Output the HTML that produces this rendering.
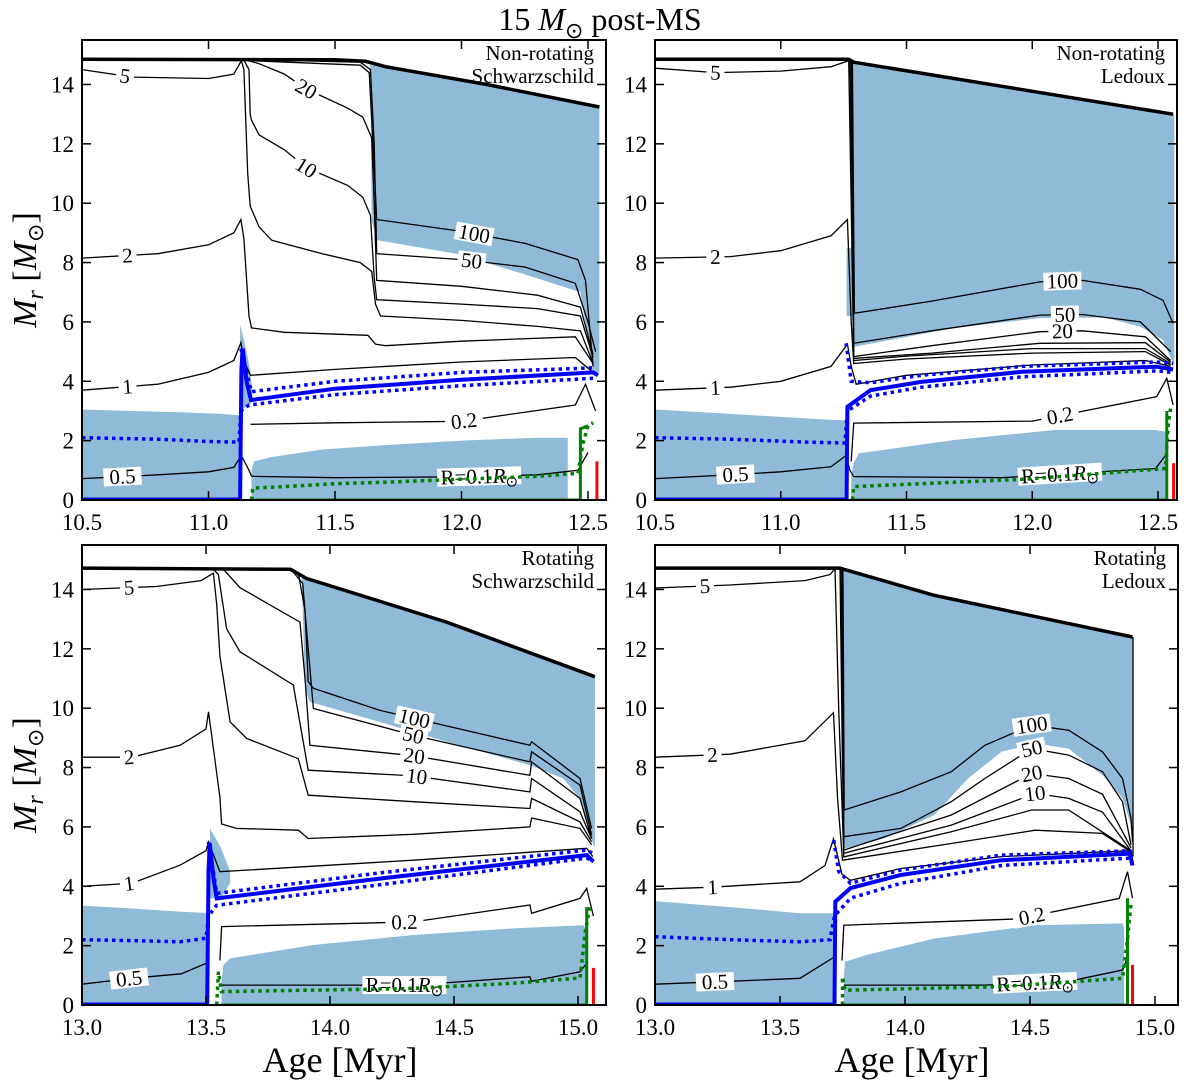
<!DOCTYPE html>
<html><head><meta charset="utf-8"><style>
html,body{margin:0;padding:0;background:#fff;}
svg{display:block;font-family:"Liberation Serif",serif;}
</style></head><body>
<svg id="fig" width="1200" height="1087" viewBox="0 0 1200 1087" xmlns="http://www.w3.org/2000/svg">
<text x="600" y="30" text-anchor="middle" font-size="32">15 <tspan font-style="italic">M</tspan><tspan font-size="22" dy="8">⊙</tspan><tspan dy="-8"> post-MS</tspan></text>
<text transform="translate(36,270) rotate(-90)" text-anchor="middle" font-size="34"><tspan font-style="italic">M</tspan><tspan font-style="italic" font-size="24" dy="7">r</tspan><tspan dy="-7"> [</tspan><tspan font-style="italic">M</tspan><tspan font-size="22" dy="7">⊙</tspan><tspan dy="-7">]</tspan></text>
<text transform="translate(36,775) rotate(-90)" text-anchor="middle" font-size="34"><tspan font-style="italic">M</tspan><tspan font-style="italic" font-size="24" dy="7">r</tspan><tspan dy="-7"> [</tspan><tspan font-style="italic">M</tspan><tspan font-size="22" dy="7">⊙</tspan><tspan dy="-7">]</tspan></text>
<text x="340" y="1072" text-anchor="middle" font-size="36">Age [Myr]</text>
<text x="912" y="1072" text-anchor="middle" font-size="36">Age [Myr]</text>
</svg>
<script>
// ---------------- Panel 1: Non-rotating Schwarzschild ----------------
const p1Total=[[10.5,14.85],[11.5,14.83],[11.62,14.78],[11.7,14.6],[12.1,14.0],[12.545,13.24]];
const p1EnvTop=[[11.64,14.72],[11.7,14.6],[12.1,14.0],[12.545,13.24]];
const p1EnvBot=[[11.64,14.5],[11.645,9.4],[11.667,8.75],[11.98,8.3],[12.25,7.6],[12.47,7.0],[12.52,4.3],[12.545,4.3]];
const p1CoreTop=[[10.5,3.05],[10.7,3.0],[10.9,2.95],[11.05,2.9],[11.125,2.85]];
const p1Sliver=[[11.125,5.9],[11.14,5.4],[11.165,4.4],[11.175,3.3],[11.125,3.0]];
const p1ShellTop=[[11.17,1.0],[11.18,1.3],[11.25,1.45],[11.45,1.7],[11.7,1.85],[12.0,2.0],[12.3,2.1],[12.42,2.1]];
const p1HLine=[[11.125,0],[11.13,4.4],[11.135,5.1],[11.15,4.0],[11.168,3.37],[11.5,3.75],[12.0,4.05],[12.52,4.3],[12.54,4.2]];
const p1DotUp=[[11.128,5.1],[11.15,4.3],[11.17,3.65],[11.5,4.0],[12.0,4.3],[12.52,4.45]];
const p1DotLo=[[10.5,2.1],[10.8,2.05],[11.0,1.97],[11.12,1.95],[11.128,3.0],[11.16,3.2],[11.5,3.55],[12.0,3.85],[12.52,4.1]];
const p1GreenDot=[[11.17,0.0],[11.175,0.4],[11.3,0.45],[11.5,0.55],[11.7,0.6],[12.0,0.7],[12.3,0.8],[12.46,0.9],[12.48,1.9],[12.5,2.5],[12.52,2.6]];
const p1GreenSolid=[[11.17,0],[12.47,0],[12.47,2.4],[12.5,2.5]];
const p1Red=[[12.535,0],[12.535,1.3]];
const p1ContourLabels=["5","2","1","10","20","50","100","0.2","0.5","R"];
const p1LabelAges=[10.67,10.68,10.68,11.386,11.386,12.04,12.05,12.01,10.66,12.07];
const p1ContourLines=[
 [[10.5,14.5],[10.7,14.25],[11.0,14.2],[11.1,14.35],[11.13,14.8],[11.14,14.5],[11.155,11],[11.165,9.9],[11.2,9.2],[11.25,8.75],[11.45,8.3],[11.6,8.0],[11.645,7.7],[11.66,6.6],[11.68,6.2],[12.0,6.05],[12.3,5.85],[12.47,5.7],[12.52,4.6]],
 [[10.5,8.15],[10.8,8.3],[11.0,8.6],[11.1,9.0],[11.128,9.45],[11.14,8.8],[11.16,6.2],[11.17,5.8],[11.3,5.65],[11.63,5.55],[11.66,5.25],[11.7,5.2],[12.0,5.35],[12.45,5.5],[12.52,4.6]],
 [[10.5,3.7],[10.8,3.9],[11.0,4.3],[11.1,4.7],[11.128,5.3],[11.14,4.7],[11.166,4.2],[11.5,4.4],[12.0,4.65],[12.45,4.8],[12.52,4.3]],
 [[11.14,14.82],[11.16,14.5],[11.165,13],[11.17,12.8],[11.2,12.3],[11.3,11.8],[11.386,11.2],[11.55,10.6],[11.61,10.2],[11.64,9.6],[11.655,7.5],[11.665,6.75],[12.0,6.6],[12.3,6.45],[12.47,6.2],[12.52,4.8]],
 [[11.15,14.82],[11.2,14.7],[11.3,14.35],[11.386,13.85],[11.55,13.2],[11.61,12.9],[11.645,12.2],[11.655,10],[11.665,7.4],[12.0,7.2],[12.3,6.9],[12.47,6.5],[12.52,4.9]],
 [[11.16,14.84],[11.6,14.75],[11.64,14.5],[11.655,12],[11.665,8.3],[12.0,8.1],[12.25,7.85],[12.45,7.3],[12.5,6.0],[12.53,5.0]],
 [[11.17,14.8],[11.6,14.65],[11.635,14.4],[11.65,12],[11.665,9.45],[12.0,9.05],[12.25,8.65],[12.46,8.1],[12.49,7.4],[12.52,4.5]],
 [[11.166,2.55],[11.5,2.6],[12.0,2.65],[12.45,3.2],[12.49,3.9],[12.53,3.0]],
 [[10.5,0.72],[10.8,0.85],[11.0,0.95],[11.1,1.1],[11.13,1.5],[11.16,1.0],[11.17,0.8]],
 [[11.17,0.8],[11.5,0.75],[12.0,0.78],[12.3,0.85],[12.46,1.0],[12.5,1.6]]
];
// ---------------- Panel 2: Non-rotating Ledoux ----------------
const p2Total=[[10.5,14.85],[11.27,14.85],[11.29,14.75],[12.56,13.0]];
const p2EnvTop=[[11.285,14.75],[12.565,13.0]];
const p2EnvBot=[[11.285,14.7],[11.29,5.16],[11.69,5.8],[12.03,6.13],[12.29,6.15],[12.43,5.84],[12.52,5.39],[12.565,4.5]];
const p2CoreTop=[[10.5,3.05],[10.8,2.9],[11.0,2.8],[11.2,2.7],[11.262,2.69]];
const p2Sliver=[[11.262,8.5],[11.285,8.5],[11.285,6.2],[11.262,6.2]];
const p2ShellTop=[[11.28,0.8],[11.29,1.24],[11.31,1.57],[11.5,1.8],[11.69,2.02],[12.09,2.36],[12.49,2.36],[12.53,2.3]];
const p2HLine=[[11.262,0],[11.265,3.14],[11.357,3.7],[11.558,3.98],[11.96,4.32],[12.495,4.49],[12.56,4.4]];
const p2DotUp=[[11.26,5.28],[11.28,4.0],[11.357,3.95],[11.558,4.2],[11.96,4.5],[12.495,4.65],[12.56,4.6]];
const p2DotLo=[[10.5,2.1],[10.8,2.05],[11.1,1.95],[11.255,1.92],[11.265,3.0],[11.357,3.5],[11.558,3.8],[11.96,4.15],[12.495,4.35],[12.56,4.3]];
const p2GreenDot=[[11.285,0],[11.29,0.45],[11.97,0.7],[12.53,1.06],[12.54,2.5],[12.55,3.1]];
const p2GreenSolid=[[11.29,0],[12.535,0],[12.535,3.0]];
const p2Red=[[12.562,0],[12.562,1.24]];
const p2ContourLabels=["5","2","1","10","20","50","100","0.2","0.5","R"];
const p2LabelAges=[10.74,10.74,10.74,null,12.12,12.13,12.12,12.11,10.82,12.11];
const p2ContourLines=[
 [[10.5,14.55],[10.74,14.4],[11.0,14.45],[11.2,14.6],[11.27,14.8],[11.28,10],[11.29,4.7],[11.5,4.85],[12.0,5.1],[12.45,5.1],[12.55,4.6]],
 [[10.5,8.15],[10.8,8.2],[11.0,8.4],[11.2,8.9],[11.265,9.45],[11.28,6],[11.29,4.6],[11.5,4.75],[12.0,4.95],[12.45,5.0],[12.55,4.55]],
 [[10.5,3.7],[10.8,3.8],[11.0,4.0],[11.2,4.5],[11.265,5.25],[11.28,4.5],[11.3,3.9],[11.5,4.2],[12.0,4.55],[12.45,4.7],[12.55,4.5]],
 [[11.275,14.85],[11.285,10],[11.29,4.77],[11.6,4.95],[12.03,5.28],[12.45,5.3],[12.55,4.65]],
 [[11.28,14.85],[11.29,4.83],[11.6,5.2],[12.03,5.67],[12.2,5.7],[12.45,5.5],[12.55,4.7]],
 [[11.283,14.85],[11.29,5.28],[11.6,5.7],[12.03,6.23],[12.2,6.25],[12.43,6.0],[12.55,5.0]],
 [[11.285,14.8],[11.293,6.29],[11.6,6.7],[12.03,7.35],[12.2,7.4],[12.43,7.1],[12.52,6.73],[12.56,5.95]],
 [[11.28,1.3],[11.29,2.59],[12.0,2.66],[12.495,3.48],[12.535,4.1],[12.56,3.2]],
 [[10.5,0.72],[10.8,0.85],[11.0,0.95],[11.2,1.12],[11.26,1.5],[11.275,1.0],[11.29,0.79]],
 [[11.29,0.79],[11.88,0.75],[12.29,0.96],[12.49,1.06],[12.53,1.5]]
];
// ---------------- Panel 3: Rotating Schwarzschild ----------------
const p3Total=[[13.0,14.72],[13.84,14.68],[13.906,14.37],[14.47,12.9],[15.068,11.06]];
const p3EnvTop=[[13.886,14.45],[13.906,14.37],[14.47,12.9],[15.068,11.06]];
const p3EnvBot=[[13.886,14.4],[13.9,10.6],[13.919,10.21],[14.2,9.54],[14.47,8.87],[14.806,8.08],[14.94,7.63],[15.008,6.96],[15.062,5.39],[15.068,5.3]];
const p3CoreTop=[[13.0,3.35],[13.2,3.25],[13.4,3.14],[13.51,3.1]];
const p3Sliver=[[13.516,5.95],[13.56,5.3],[13.597,4.5],[13.597,4.1],[13.56,3.6],[13.516,3.6]];
const p3ShellTop=[[13.563,0.8],[13.57,1.35],[13.597,1.57],[13.933,2.02],[14.336,2.36],[14.739,2.58],[15.021,2.69],[15.03,2.6]];
const p3HLine=[[13.505,0],[13.51,4.5],[13.515,5.45],[13.53,4.3],[13.543,3.59],[14.2,4.26],[15.035,5.05],[15.062,4.83]];
const p3DotUp=[[13.51,5.5],[13.535,4.2],[13.543,3.76],[14.2,4.45],[15.035,5.22],[15.06,5.1]];
const p3DotLo=[[13.0,2.2],[13.2,2.17],[13.395,2.13],[13.5,2.25],[13.51,3.0],[13.543,3.36],[14.2,4.05],[15.035,4.95],[15.062,4.83]];
const p3GreenDot=[[13.543,0],[13.55,1.12],[13.563,0.45],[14.3,0.55],[14.739,0.73],[15.008,0.91],[15.03,2.5],[15.05,3.4]];
const p3GreenSolid=[[13.56,0],[15.035,0],[15.035,3.3]];
const p3Red=[[15.062,0],[15.062,1.25]];
const p3ContourLabels=["5","2","1","10","20","50","100","0.2","0.5","R"];
const p3LabelAges=[13.19,13.19,13.19,14.35,14.34,14.336,14.34,14.3,13.19,14.3];
const p3ContourLines=[
 [[13.0,14.0],[13.3,14.1],[13.48,14.3],[13.53,14.55],[13.543,13.5],[13.556,11.76],[13.597,9.54],[13.664,8.98],[13.872,8.3],[13.912,7.07],[14.336,6.85],[14.806,6.62],[14.813,6.96],[15.008,6.17],[15.055,5.5]],
 [[13.0,8.35],[13.2,8.35],[13.395,8.75],[13.5,9.3],[13.51,9.88],[13.556,7.0],[13.563,6.1],[13.623,5.95],[13.872,5.89],[13.912,5.61],[14.336,5.75],[14.806,6.0],[14.813,6.3],[15.008,5.95],[15.055,5.4]],
 [[13.0,4.0],[13.2,4.1],[13.395,4.71],[13.5,5.2],[13.51,5.5],[13.556,4.49],[14.336,4.88],[15.035,5.28],[15.06,5.0]],
 [[13.53,14.68],[13.55,14.5],[13.583,12.68],[13.637,11.9],[13.852,10.78],[13.899,8.53],[13.912,7.91],[14.336,7.72],[14.806,7.18],[14.813,7.63],[15.008,6.51],[15.055,5.6]],
 [[13.57,14.68],[13.637,14.06],[13.879,12.9],[13.899,11.0],[13.919,8.75],[14.336,8.4],[14.806,7.74],[14.813,8.19],[15.008,6.96],[15.055,5.61]],
 [[13.85,14.6],[13.89,14.2],[13.912,12],[13.933,9.99],[14.336,9.09],[14.806,8.19],[14.813,8.53],[15.008,7.41],[15.055,5.72]],
 [[13.872,14.55],[13.899,13.3],[13.912,10.9],[13.933,10.67],[14.2,9.93],[14.806,8.75],[14.813,8.87],[15.008,7.63],[15.055,5.95]],
 [[13.556,1.5],[13.563,2.64],[14.336,2.8],[14.806,3.37],[14.813,3.09],[15.008,3.59],[15.035,3.93],[15.062,3.0]],
 [[13.0,0.7],[13.2,0.9],[13.4,1.05],[13.5,1.4],[13.51,1.8]],
 [[13.563,0.67],[14.336,0.67],[14.806,0.95],[14.813,0.8],[15.008,1.12],[15.035,1.4]]
];
// ---------------- Panel 4: Rotating Ledoux ----------------
const p4Total=[[13.0,14.72],[13.74,14.72],[13.755,14.68],[14.118,13.8],[14.91,12.4]];
const p4EnvTop=[[13.755,14.68],[14.118,13.8],[14.912,12.4]];
const p4EnvBot=[[13.755,5.27],[13.916,5.61],[14.118,6.4],[14.252,7.63],[14.386,8.53],[14.521,8.81],[14.655,8.64],[14.79,7.74],[14.87,6.96],[14.904,6.05],[14.912,5.5]];
const p4CoreTop=[[13.0,3.5],[13.3,3.3],[13.58,3.09],[13.714,3.09]];
const p4Sliver=[];
const p4ShellTop=[[13.755,0.9],[13.76,1.46],[13.849,1.69],[14.118,2.24],[14.521,2.69],[14.87,2.75],[14.876,2.6]];
const p4HLine=[[13.718,0],[13.721,3.48],[13.782,3.94],[13.983,4.38],[14.386,4.88],[14.9,5.1],[14.91,4.7]];
const p4DotUp=[[13.715,5.55],[13.735,4.5],[13.782,4.1],[13.983,4.55],[14.386,5.05],[14.9,5.2],[14.91,5.0]];
const p4DotLo=[[13.0,2.3],[13.3,2.2],[13.58,2.13],[13.7,2.2],[13.718,3.0],[13.782,3.6],[13.983,4.1],[14.386,4.7],[14.9,4.95],[14.91,4.7]];
const p4GreenDot=[[13.75,0],[13.75,0.95],[13.76,0.5],[14.386,0.62],[14.87,0.9],[14.89,2.2],[14.904,3.4]];
const p4GreenSolid=[[13.755,0],[14.89,0],[14.89,3.6]];
const p4Red=[[14.91,0],[14.91,1.35]];
const p4ContourLabels=["5","2","1","10","20","50","100","0.2","0.5","R","edge"];
const p4LabelAges=[13.2,13.23,13.23,14.52,14.507,14.507,14.507,14.507,13.24,14.52,null];
const p4ContourLines=[
 [[13.0,14.05],[13.3,14.15],[13.6,14.3],[13.7,14.5],[13.72,14.7],[13.735,10],[13.755,4.99],[14.185,5.84],[14.507,6.57],[14.655,6.57],[14.904,5.2]],
 [[13.0,8.35],[13.3,8.45],[13.6,8.9],[13.714,9.85],[13.73,7],[13.75,4.88],[14.185,5.44],[14.521,5.89],[14.79,5.78],[14.904,5.16]],
 [[13.0,3.9],[13.23,3.97],[13.58,4.15],[13.68,4.7],[13.714,5.6],[13.748,4.4],[13.782,4.2],[13.983,4.6],[14.386,5.0],[14.9,5.2],[14.91,5.0]],
 [[13.74,14.72],[13.75,8],[13.755,5.11],[14.185,6.06],[14.52,7.13],[14.655,6.96],[14.79,6.5],[14.904,5.2]],
 [[13.745,14.72],[13.752,8],[13.755,5.22],[14.185,6.4],[14.507,7.8],[14.655,7.63],[14.79,7.1],[14.904,5.3]],
 [[13.75,14.72],[13.755,5.67],[13.983,5.95],[14.185,6.85],[14.319,7.63],[14.507,8.64],[14.655,8.42],[14.79,7.86],[14.87,6.85],[14.904,5.4]],
 [[13.752,14.7],[13.757,6.57],[13.983,7.18],[14.185,7.86],[14.319,8.75],[14.507,9.43],[14.655,9.26],[14.79,8.53],[14.87,7.63],[14.904,6.29],[14.91,5.5]],
 [[13.748,1.5],[13.755,2.69],[14.454,2.9],[14.857,3.59],[14.89,4.49],[14.91,3.6]],
 [[13.0,0.7],[13.3,0.8],[13.58,0.9],[13.714,1.6]],
 [[13.755,0.67],[14.319,0.67],[14.655,0.8],[14.87,1.18],[14.89,1.6]],
 [[14.912,12.4],[14.912,5.0]]
];
// ---------------- Axes / tick labels ----------------
const topTicks=["10.5","11.0","11.5","12.0","12.5"];
const botTicks=["13.0","13.5","14.0","14.5","15.0"];
const yTicks=[0,2,4,6,8,10,12,14];

const NS="http://www.w3.org/2000/svg";
const svg=document.getElementById('fig');
function mk(tag,attrs,parent){const e=document.createElementNS(NS,tag);for(const k in attrs)e.setAttribute(k,attrs[k]);(parent||svg).appendChild(e);return e;}
function interp(arr,a){for(let i=0;i<arr.length-1;i++){const p=arr[i],q=arr[i+1];if(a>=p[0]&&a<=q[0]){if(q[0]===p[0])return p[1];return p[1]+(q[1]-p[1])*(a-p[0])/(q[0]-p[0]);}}return arr[arr.length-1][1];}

const panels=[
 {id:1,x0:82,a0:10.5,sx:253,left:82,right:606,top:40,bottom:500,ticks:topTicks,title:["Non-rotating","Schwarzschild"],
  total:p1Total,envTop:p1EnvTop,envBot:p1EnvBot,core:p1CoreTop,sliver:p1Sliver,shell:p1ShellTop,h:p1HLine,du:p1DotUp,dl:p1DotLo,gd:p1GreenDot,gs:p1GreenSolid,red:p1Red,cl:p1ContourLines,cn:p1ContourLabels,ca:p1LabelAges},
 {id:2,x0:655,a0:10.5,sx:251.5,left:655,right:1177,top:40,bottom:500,ticks:topTicks,title:["Non-rotating","Ledoux"],
  total:p2Total,envTop:p2EnvTop,envBot:p2EnvBot,core:p2CoreTop,sliver:p2Sliver,shell:p2ShellTop,h:p2HLine,du:p2DotUp,dl:p2DotLo,gd:p2GreenDot,gs:p2GreenSolid,red:p2Red,cl:p2ContourLines,cn:p2ContourLabels,ca:p2LabelAges},
 {id:3,x0:82,a0:13,sx:248,left:82,right:606,top:545,bottom:1005,ticks:botTicks,title:["Rotating","Schwarzschild"],
  total:p3Total,envTop:p3EnvTop,envBot:p3EnvBot,core:p3CoreTop,sliver:p3Sliver,shell:p3ShellTop,h:p3HLine,du:p3DotUp,dl:p3DotLo,gd:p3GreenDot,gs:p3GreenSolid,red:p3Red,cl:p3ContourLines,cn:p3ContourLabels,ca:p3LabelAges},
 {id:4,x0:655,a0:13,sx:250,left:655,right:1178,top:545,bottom:1005,ticks:botTicks,title:["Rotating","Ledoux"],
  total:p4Total,envTop:p4EnvTop,envBot:p4EnvBot,core:p4CoreTop,sliver:p4Sliver,shell:p4ShellTop,h:p4HLine,du:p4DotUp,dl:p4DotLo,gd:p4GreenDot,gs:p4GreenSolid,red:p4Red,cl:p4ContourLines,cn:p4ContourLabels,ca:p4LabelAges}
];
const MS=29.68;
panels.forEach(P=>{
 const X=a=>P.x0+(a-P.a0)*P.sx, Y=m=>P.bottom-m*MS;
 const pts=arr=>arr.map(p=>X(p[0]).toFixed(1)+","+Y(p[1]).toFixed(1)).join(" ");
 const g=mk('g',{});
 
 
 const cp=mk('clipPath',{id:'clip'+P.id},g);
 mk('rect',{x:P.left,y:P.top,width:P.right-P.left,height:P.bottom-P.top},cp);
 const pg=mk('g',{'clip-path':'url(#clip'+P.id+')'},g);
 const fill="#8fbbd9";
 // convective regions
 const core=mk('polygon',{points:pts([[P.core[0][0],0]].concat(P.core,[[P.core[P.core.length-1][0],0]])),fill:fill},pg);
 
 
 if(P.sliver.length){const s=mk('polygon',{points:pts(P.sliver),fill:fill},pg);
  
  }
 const env=mk('polygon',{points:pts(P.envTop.concat(P.envBot.slice().reverse())),fill:fill},pg);
 
 
 const sh=mk('polygon',{points:pts([[P.shell[0][0],0]].concat(P.shell,[[P.shell[P.shell.length-1][0],0]])),fill:fill},pg);
 
 
 // contours
 P.cl.forEach((line,i)=>{
  const c=mk('polyline',{points:pts(line),fill:'none',stroke:'#000','stroke-width':1.3},pg);
  
  
 });
 P.cl.forEach((line,i)=>{
  const a=P.ca[i]; if(a==null) return;
  const m=interp(line,a);
  const px=X(a),py=Y(m);
  const d=0.02;
  const dy=Y(interp(line,a+d))-Y(interp(line,a-d)), dx=X(a+d)-X(a-d);
  const ang=Math.atan2(dy,dx)*180/Math.PI;
  const lg=mk('g',{transform:`translate(${px.toFixed(1)},${py.toFixed(1)}) rotate(${ang.toFixed(1)})`},pg);
  
  
  const isR=P.cn[i]==="R";
  const w=isR?84:P.cn[i].length*10+8;
  mk('rect',{x:-w/2,y:-9,width:w,height:18,fill:'#fff'},lg);
  const t=mk('text',{x:0,y:7,'text-anchor':'middle','font-size':21},lg);
  if(isR){t.innerHTML='R=0.1<tspan font-style="italic">R</tspan><tspan font-size="15" dy="4">⊙</tspan>';}
  else t.textContent=P.cn[i];
 });
 // total mass
 const tot=mk('polyline',{points:pts(P.total),fill:'none',stroke:'#000','stroke-width':3.5},pg);
 
 
 // blue bottom line before ignition
 const bb=mk('line',{x1:P.left,y1:P.bottom-1,x2:X(P.h[0][0]),y2:P.bottom-1,stroke:'#0000ee','stroke-width':3},pg);
 
 
 [[P.du,'h-shell-dotted-upper'],[P.dl,'h-shell-dotted-lower']].forEach(([arr,nm])=>{
  const l=mk('polyline',{points:pts(arr),fill:'none',stroke:'#0000ff','stroke-width':3.5,'stroke-dasharray':'3.5,4'},pg);
  
  
 });
 const hl=mk('polyline',{points:pts(P.h),fill:'none',stroke:'#0000ff','stroke-width':4},pg);
 
 
 const gd=mk('polyline',{points:pts(P.gd),fill:'none',stroke:'#008000','stroke-width':3.5,'stroke-dasharray':'3.5,4'},pg);
 
 
 const gs=mk('polyline',{points:pts(P.gs),fill:'none',stroke:'#008000','stroke-width':3},pg);
 
 
 const rd=mk('polyline',{points:pts(P.red),fill:'none',stroke:'#ff0000','stroke-width':3},pg);
 
 
 // frame
 const fr=mk('rect',{x:P.left,y:P.top,width:P.right-P.left,height:P.bottom-P.top,fill:'none',stroke:'#000','stroke-width':2},g);
 
 
 // x ticks
 P.ticks.forEach(lbl=>{
  const x=X(parseFloat(lbl));
  mk('line',{x1:x,y1:P.bottom,x2:x,y2:P.bottom-9,stroke:'#000','stroke-width':1.5},g);
  mk('line',{x1:x,y1:P.top,x2:x,y2:P.top+9,stroke:'#000','stroke-width':1.5},g);
  const t=mk('text',{x:x,y:P.bottom+30,'text-anchor':'middle','font-size':23},g);
  t.textContent=lbl;
  
  
 });
 yTicks.forEach(v=>{
  const y=Y(v);
  mk('line',{x1:P.left,y1:y,x2:P.left+9,y2:y,stroke:'#000','stroke-width':1.5},g);
  mk('line',{x1:P.right,y1:y,x2:P.right-9,y2:y,stroke:'#000','stroke-width':1.5},g);
  const t=mk('text',{x:P.left-8,y:y+8,'text-anchor':'end','font-size':23},g);
  t.textContent=String(v);
  
  
 });
 P.title.forEach((s,i)=>{
  const t=mk('text',{x:P.right-12,y:P.top+20+i*23,'text-anchor':'end','font-size':21},g);
  t.textContent=s;
  
  
 });
});
</script>
</body></html>
